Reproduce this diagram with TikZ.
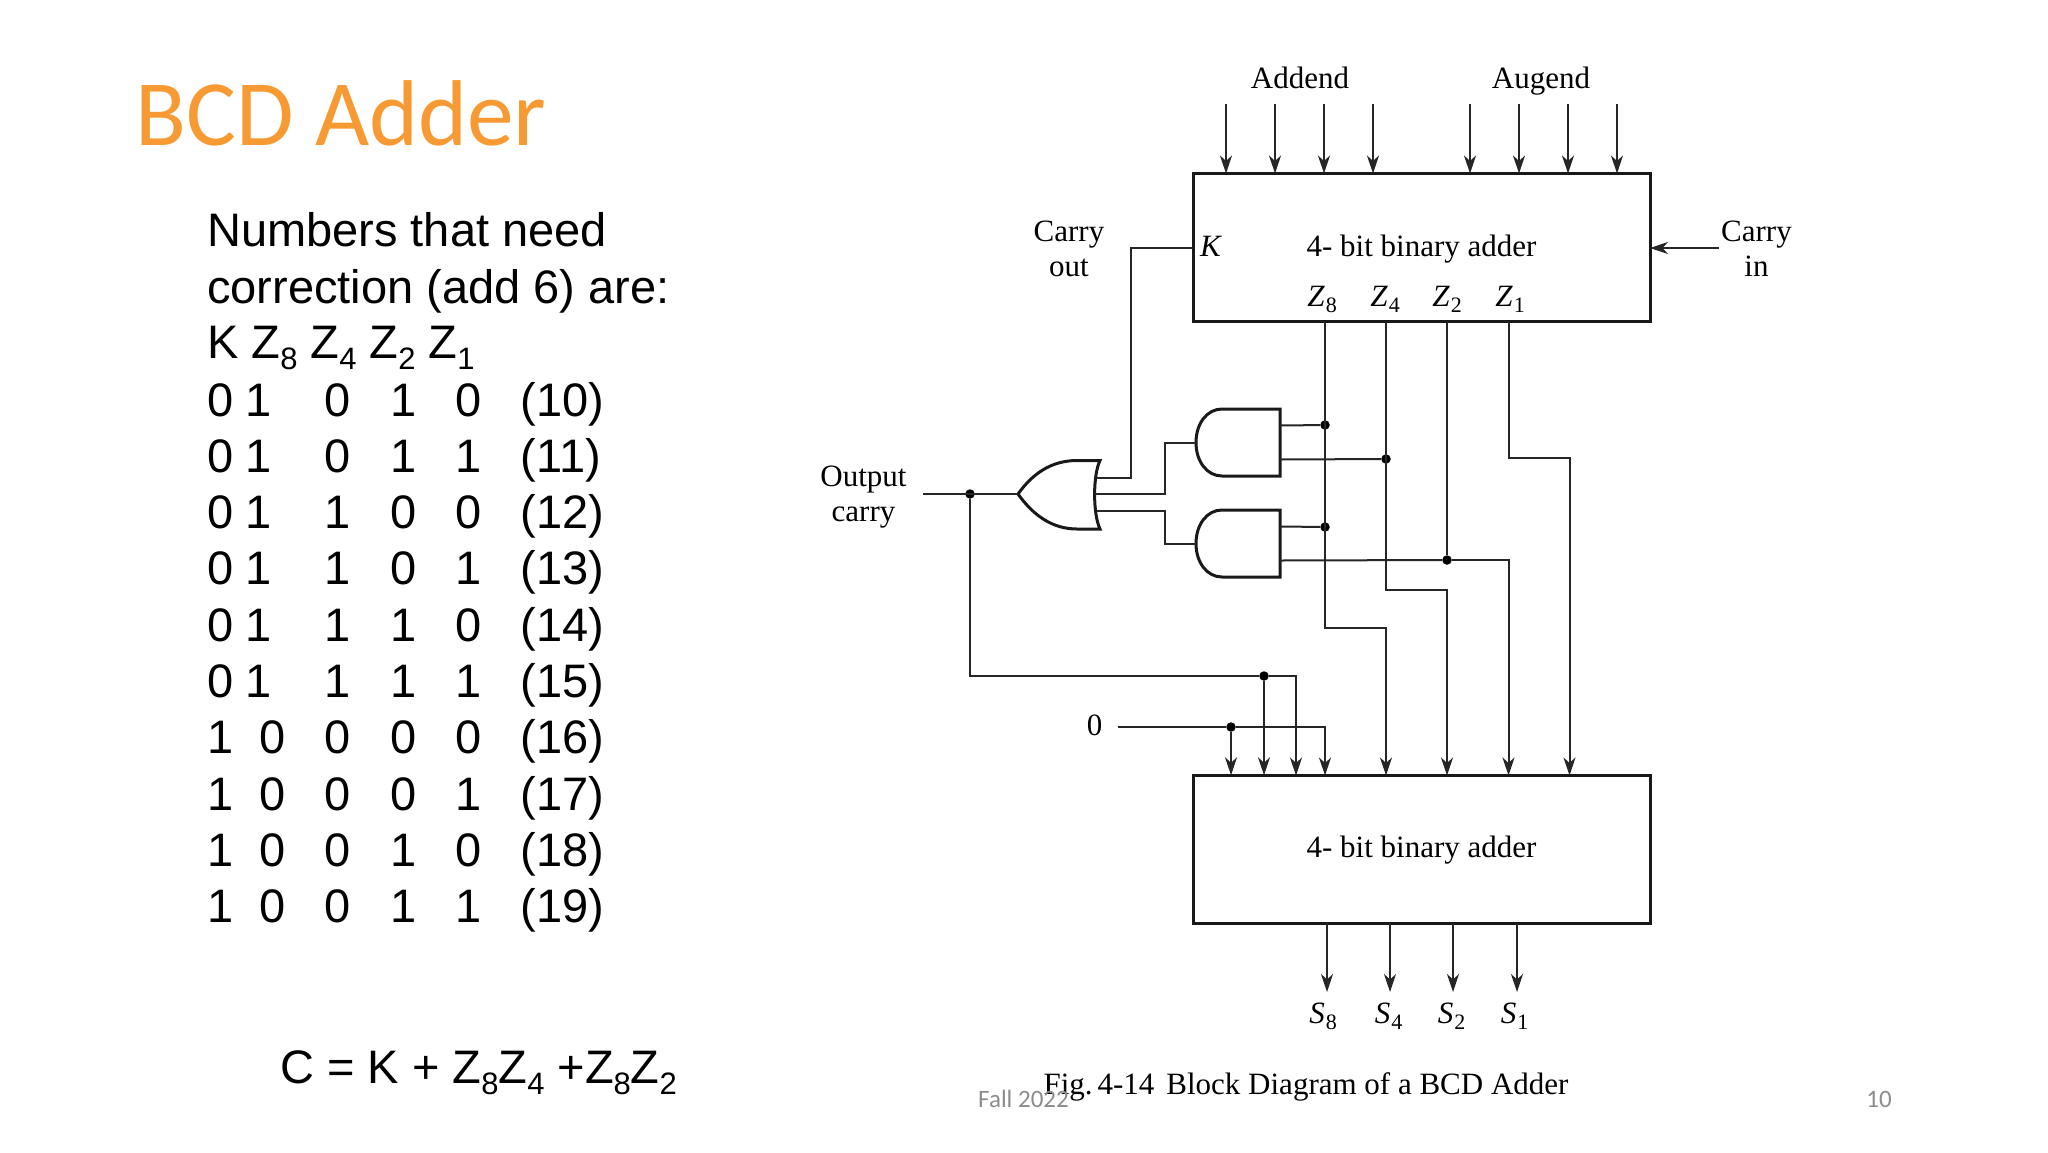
\documentclass[tikz,border=0pt]{standalone}
\usepackage{fontspec}
\setmainfont{Liberation Serif}
\newfontfamily\slidefont{Liberation Sans}
\newfontfamily\titlefont{Carlito}
\usetikzlibrary{arrows.meta}

\definecolor{titleorange}{HTML}{F79A33}
\definecolor{footgray}{HTML}{8C8C8C}

% italic letter with upright index, figure and slide sizes
\newcommand{\figsub}[2]{\textit{#1}\kern1pt\raisebox{-6pt}{\fontsize{22}{22}\selectfont #2}}
\newcommand{\slidesub}[1]{\raisebox{-11pt}{\fontsize{31}{31}\selectfont #1}}

\tikzset{
  wire/.style={line width=2pt,draw=black!85},
  adderbox/.style={draw=black!90,line width=3pt,outer sep=0pt,minimum width=457pt,minimum height=148pt,
    text height=21pt,text depth=4pt,font=\fontsize{31}{36}\selectfont},
  dot/.style={circle,fill=black,inner sep=0pt,minimum size=9.5pt},
  lbl/.style={inner sep=0pt,anchor=base,font=\fontsize{31}{35}\selectfont},
  twoline/.style={inner sep=0pt,align=center,font=\fontsize{31}{35}\selectfont},
  slidetxt/.style={inner sep=0pt,anchor=base west,font=\slidefont\fontsize{47}{56}\selectfont},
  cell/.style={inner sep=0pt,anchor=base,font=\slidefont\fontsize{47}{56}\selectfont},
  foot/.style={inner sep=0pt,text=footgray,font=\titlefont\fontsize{25}{30}\selectfont},
  pics/andgate/.style={code={
    \draw[line width=3pt,draw=black!90] (84,-33.5) -- (26,-33.5) .. controls (11,-33.5) and (0,-19) .. (0,0)
      .. controls (0,19) and (11,33.5) .. (26,33.5) -- (84,33.5) -- cycle;
    \coordinate (-in) at (0,0);
    \coordinate (-a) at (84,-17);
    \coordinate (-b) at (84,17);
  }},
}

\begin{document}
\begin{tikzpicture}[x=1pt,y=-1pt,>={Stealth[length=18pt,width=12pt,inset=5.5pt]}]
\useasboundingbox (0,0) rectangle (2048,1152);

%% left side of the slide
\node[inner sep=0pt,anchor=base west,text=titleorange,font=\titlefont\fontsize{93.5}{100}\selectfont] (title) at (135.5,145) {BCD Adder};
\node[slidetxt] (need1) at (207,246) {Numbers that need};
\node[slidetxt] (need2) at (207,303) {correction (add 6) are:};
\node[slidetxt] (head) at (207,358) {K Z\slidesub{8} Z\slidesub{4} Z\slidesub{2} Z\slidesub{1}};

\foreach \a/\b/\bx/\c/\d/\e/\num [count=\r from 0] in
  {0/1/258.5/0/1/0/10,0/1/258.5/0/1/1/11,0/1/258.5/1/0/0/12,0/1/258.5/1/0/1/13,0/1/258.5/1/1/0/14,
   0/1/258.5/1/1/1/15,1/0/273/0/0/0/16,1/0/273/0/0/1/17,1/0/273/0/1/0/18,1/0/273/0/1/1/19}
{
  \node[cell] (ca\r) at (220.5,{416+56.3*\r}) {\a};
  \node[cell] (cb\r) at (\bx,{416+56.3*\r}) {\b};
  \node[cell] (cc\r) at (338,{416+56.3*\r}) {\c};
  \node[cell] (cd\r) at (404,{416+56.3*\r}) {\d};
  \node[cell] (ce\r) at (469,{416+56.3*\r}) {\e};
  \node[slidetxt] (cn\r) at (520.5,{416+56.3*\r}) {(\num)};
}
\node[slidetxt] (eqn) at (280,1083) {C = K + Z\slidesub{8}Z\slidesub{4} +Z\slidesub{8}Z\slidesub{2}};

%% the two adders
\node[adderbox] (adder1) at (1421.5,247.5) {4- bit binary adder};
\node[adderbox] (adder2) at (1421.5,849.25) {4- bit binary adder};

\node[lbl] (addend) at (1300,88) {Addend};
\node[lbl] (augend) at (1541,88) {Augend};
\foreach \n/\x in {a8/1226,a4/1275,a2/1324,a1/1373,b8/1470,b4/1519,b2/1568,b1/1617}
{
  \coordinate (\n) at (\x,104);
  \draw[wire,->] (\n) -- (\n |- adder1.north);
}

\node[twoline] (cout) at (1069,249) {Carry\\out};
\node[twoline] (cin) at (1756.5,249) {Carry\\in};
\coordinate (cinstart) at (1719,248);
\draw[wire,->] (cinstart) -- (adder1.east |- cinstart);

\node[lbl] (klab) at (1211,256) {\textit{K}};
\node[lbl] (z8lab) at (1322,306) {\figsub{Z}{8}};
\node[lbl] (z4lab) at (1385,306) {\figsub{Z}{4}};
\node[lbl] (z2lab) at (1447,306) {\figsub{Z}{2}};
\node[lbl] (z1lab) at (1510,306) {\figsub{Z}{1}};

\foreach \n/\x/\lx/\d in {s8/1327/1323/8,s4/1390/1388.5/4,s2/1453/1451.5/2,s1/1517/1514.5/1}
{
  \coordinate (\n) at (\x,992);
  \draw[wire,->] (\n |- adder2.south) -- (\n);
  \node[lbl] (\n lab) at (\lx,1023) {\figsub{S}{\d}};
}

%% gates
\pic (and1) at (1196,442.5) {andgate};
\pic (and2) at (1196,543.5) {andgate};
\draw[line width=3pt,draw=black!90] (1018,494) .. controls (1033,473) and (1052,460.5) .. (1077,460.5) -- (1100,460.5)
  .. controls (1092.8,475) and (1092.8,514) .. (1100,529) -- (1077,529)
  .. controls (1052,529) and (1033,515) .. (1018,494) coordinate (ortip);
\coordinate (orup) at (1096.5,478);
\coordinate (ormid) at (1094.6,494);
\coordinate (orlow) at (1096.5,511);

%% wires and junctions
\coordinate (zw8) at (1325,321.5);
\coordinate (zw4) at (1386,321.5);
\coordinate (zw2) at (1447,321.5);
\coordinate (zw1) at (1508.5,321.5);
\coordinate (zin8) at (1386,775.5);
\coordinate (zin4) at (1447,775.5);
\coordinate (zin2) at (1508.5,775.5);
\coordinate (zin1) at (1569.5,775.5);

\node[dot] (j8a) at (1325,425) {};
\node[dot] (j4) at (1386,459) {};
\node[dot] (j8b) at (1325,527) {};
\node[dot] (j2) at (1447,560) {};

\draw[wire] (adder1.west |- klab.base) ++(0,-8) -| (1131,478) -- (orup);
\draw[wire] (ormid) -| (1165,442.5) -- (and1-in);
\draw[wire] (orlow) -| (1165,543.5) -- (and2-in);
\draw[wire] (and1-a) -- (j8a);
\draw[wire] (and1-b) -- (j4);
\draw[wire] (and2-a) -- (j8b);
\draw[wire] (and2-b) -- (j2);

\draw[wire,->] (zw8) |- (1386,627.5) -- (zin8);
\draw[wire,->] (zw4) |- (1447,590) -- (zin4);
\draw[wire] (zw2) -- (j2);
\draw[wire,->] (j2) -| (zin2);
\draw[wire,->] (zw1) |- (1569.5,458) -- (zin1);

%% output carry back to the second adder
\node[twoline] (outc) at (863.5,497.5) {Output\\carry};
\coordinate (outend) at (923,494);
\node[dot] (jout) at (970,494) {};
\node[dot] (jc) at (1264,676) {};
\draw[wire] (outend) -- (ortip);
\draw[wire] (jout) |- (jc);
\draw[wire,->] (jc) -| (1296,775.5);
\draw[wire,->] (jc) -- (jc |- adder2.north);

\node[lbl] (zero) at (1094.6,735) {0};
\coordinate (zerostart) at (1117.5,727);
\node[dot] (jz) at (1231,727) {};
\draw[wire] (zerostart) -- (jz);
\draw[wire,->] (jz) -- (jz |- adder2.north);
\draw[wire,->] (jz) -| (1325,775.5);

%% caption and footer
\node[lbl] (caption) at (1306,1094) {Fig.\hspace{5pt}4-14\hspace{12pt}Block Diagram of a BCD Adder};
\node[foot,anchor=base west] (fall) at (978,1107) {Fall 2022};
\node[foot,anchor=base] (pageno) at (1879,1107) {10};
\end{tikzpicture}
\end{document}
